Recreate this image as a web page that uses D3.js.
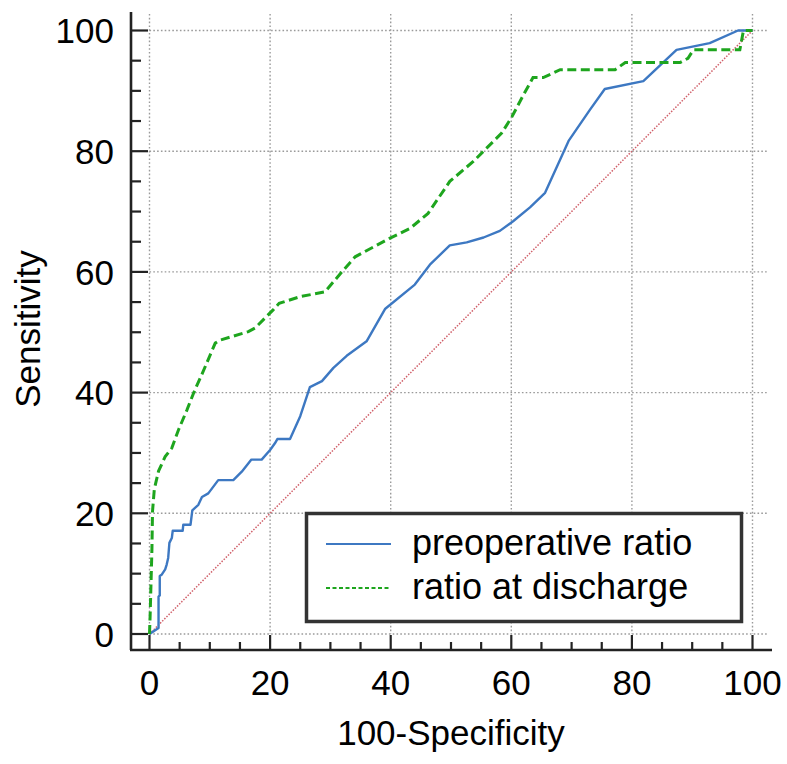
<!DOCTYPE html>
<html>
<head>
<meta charset="utf-8">
<script src="https://cdn.jsdelivr.net/npm/d3@7"></script>
<style>
  html, body { margin: 0; padding: 0; background: #fff; }
  svg { display: block; font-family: "Liberation Sans", Arial, sans-serif; }
</style>
</head>
<body>
<svg id="chart" width="787" height="764"></svg>
<script>
// ---- data ----
const seriesNames = ["preoperative ratio", "ratio at discharge"];
const xTicks = [0, 20, 40, 60, 80, 100];
const yTicks = [0, 20, 40, 60, 80, 100];
const preoperativeX = [0, 1.5, 1.5, 1.7, 1.7, 2.0, 2.6, 2.85, 3.1, 3.3, 3.7, 3.85, 5.5, 5.6, 6.8, 7.1, 8.1, 8.7, 9.75, 11.4, 13.9, 15.3, 16.9, 18.6, 20.0, 20.8, 21.2, 23.3, 25.0, 26.6, 28.6, 30.5, 32.7, 36.0, 39.1, 44.0, 46.5, 49.8, 52.6, 55.4, 58.1, 60.3, 63.1, 65.6, 69.5, 73.0, 75.5, 81.9, 87.4, 92.9, 97.6, 100];
const preoperativeY = [0, 1.0, 6.2, 6.4, 9.6, 9.8, 10.7, 11.5, 12.6, 15.1, 15.9, 17.1, 17.1, 18.1, 18.1, 20.5, 21.4, 22.7, 23.3, 25.5, 25.5, 26.9, 28.9, 28.9, 30.5, 31.6, 32.3, 32.3, 36.1, 40.9, 41.9, 44.1, 46.1, 48.5, 53.9, 57.9, 61.2, 64.4, 64.9, 65.7, 66.8, 68.4, 70.7, 73.1, 81.7, 86.8, 90.3, 91.6, 96.8, 97.9, 100, 100];
const dischargeX = [0, 0.1, 0.4, 0.5, 0.65, 0.8, 1.5, 2.6, 3.7, 4.8, 6.2, 7.5, 8.9, 10.9, 11.7, 16.4, 17.5, 20.5, 21.5, 25.0, 29.1, 31.9, 34.1, 39.9, 43.2, 46.2, 49.8, 53.7, 55.9, 58.4, 60.1, 62.0, 63.6, 65.3, 68.1, 77.2, 78.9, 88.0, 89.3, 90.2, 97.9, 98.2, 98.5, 100];
const dischargeY = [0, 2.9, 13.9, 20.3, 22.2, 24.0, 27.0, 29.4, 30.8, 33.8, 37.1, 40.4, 43.5, 48.2, 48.7, 50.1, 50.7, 53.7, 54.8, 55.9, 56.7, 60.0, 62.5, 65.6, 67.2, 69.7, 75.0, 78.3, 80.5, 83.0, 85.7, 89.3, 92.2, 92.2, 93.5, 93.5, 94.7, 94.7, 95.4, 96.8, 96.8, 98.4, 100, 100];
const diagonal = [0, 100];

// ---- layout ----
const svg = d3.select("#chart");
const x = d3.scaleLinear().domain([0, 100]).range([149.5, 752.5]);
const y = d3.scaleLinear().domain([0, 100]).range([634, 30.5]);
const plotLeft = x(0), plotRight = 768, plotTop = 14, plotBottom = y(0);
const axisX = 131, axisY = 650;
const font = 35;

// grid
const grid = svg.append("g").attr("stroke", "#9a9a9a").attr("stroke-width", 1.4).attr("stroke-dasharray", "1.6,2.2");
grid.selectAll("line.v").data(xTicks).join("line").attr("class", "v")
  .attr("x1", d => x(d)).attr("x2", d => x(d)).attr("y1", plotTop).attr("y2", plotBottom);
grid.selectAll("line.h").data(yTicks).join("line").attr("class", "h")
  .attr("y1", d => y(d)).attr("y2", d => y(d)).attr("x1", plotLeft).attr("x2", plotRight);

// axes
const ax = svg.append("g").attr("stroke", "#222");
ax.append("line").attr("x1", axisX).attr("x2", axisX).attr("y1", 12).attr("y2", axisY).attr("stroke-width", 2.6);
ax.append("line").attr("x1", axisX - 1).attr("x2", 772).attr("y1", axisY).attr("y2", axisY).attr("stroke-width", 2.6);
const minor = d3.range(0, 101, 5).filter(v => v % 20 !== 0);
ax.selectAll("line.ym").data(yTicks).join("line").attr("stroke-width", 2.2)
  .attr("x1", axisX).attr("x2", 148).attr("y1", d => y(d)).attr("y2", d => y(d));
ax.selectAll("line.yn").data(minor).join("line").attr("stroke-width", 2.2)
  .attr("x1", axisX).attr("x2", 141).attr("y1", d => y(d)).attr("y2", d => y(d));
ax.selectAll("line.xm").data(xTicks).join("line").attr("stroke-width", 2.2)
  .attr("x1", d => x(d)).attr("x2", d => x(d)).attr("y1", axisY).attr("y2", 635);
ax.selectAll("line.xn").data(minor).join("line").attr("stroke-width", 2.2)
  .attr("x1", d => x(d)).attr("x2", d => x(d)).attr("y1", axisY).attr("y2", 642);

// tick labels
svg.append("g").selectAll("text").data(yTicks).join("text")
  .attr("x", 114).attr("y", d => y(d)).attr("dy", "0.36em")
  .attr("text-anchor", "end").attr("font-size", font).attr("fill", "#000").text(d => d);
svg.append("g").selectAll("text").data(xTicks).join("text")
  .attr("x", d => x(d)).attr("y", 695)
  .attr("text-anchor", "middle").attr("font-size", font).attr("fill", "#000").text(d => d);

// axis titles
svg.append("text").attr("x", 451).attr("y", 745).attr("text-anchor", "middle")
  .attr("font-size", font).attr("fill", "#000").text("100-Specificity");
svg.append("text").attr("transform", "translate(40,329) rotate(-90)").attr("text-anchor", "middle")
  .attr("font-size", font).attr("fill", "#000").text("Sensitivity");

// diagonal reference
const line = d3.line().x(d => x(d[0])).y(d => y(d[1]));
svg.append("path").datum(diagonal.map(v => [v, v])).attr("d", line)
  .attr("fill", "none").attr("stroke", "#d0606a").attr("stroke-width", 1.5).attr("stroke-dasharray", "1.5,1.5");

// curves
svg.append("path").datum(preoperativeX.map((v, i) => [v, preoperativeY[i]])).attr("d", line)
  .attr("fill", "none").attr("stroke", "#3d78c2").attr("stroke-width", 2.4).attr("stroke-linejoin", "round");
svg.append("path").datum(dischargeX.map((v, i) => [v, dischargeY[i]])).attr("d", line)
  .attr("fill", "none").attr("stroke", "#1ea51e").attr("stroke-width", 3).attr("stroke-dasharray", "9,4.5");

// legend
const lg = svg.append("g");
lg.append("rect").attr("x", 306.5).attr("y", 513.5).attr("width", 435).attr("height", 108)
  .attr("fill", "#fff").attr("stroke", "#333").attr("stroke-width", 3.5);
const legendColors = ["#3d78c2", "#1ea51e"];
const legendDash = [null, "4,2.5"];
seriesNames.forEach((name, i) => {
  const cy = 544 + i * 44;
  lg.append("line").attr("x1", 326).attr("x2", 391).attr("y1", cy).attr("y2", cy)
    .attr("stroke", legendColors[i]).attr("stroke-width", 1.8).attr("stroke-dasharray", legendDash[i]);
  lg.append("text").attr("x", 412).attr("y", cy).attr("dy", "0.3em")
    .attr("font-size", 36).attr("fill", "#000").text(name);
});
</script>
</body>
</html>
